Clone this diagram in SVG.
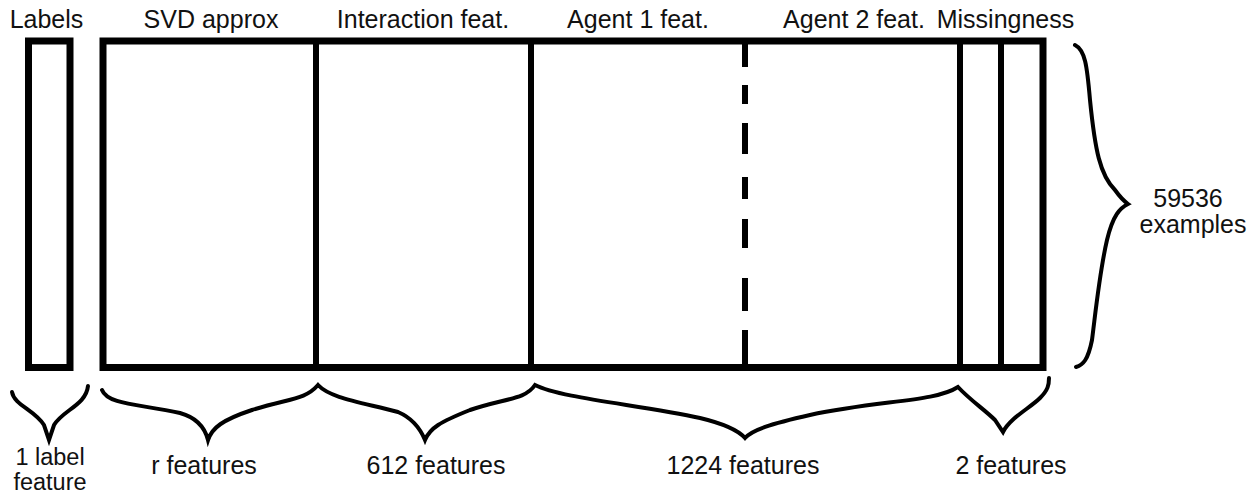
<svg xmlns="http://www.w3.org/2000/svg" width="1260" height="495" viewBox="0 0 1260 495">
<style>
.t{font-family:"Liberation Sans",Arial,sans-serif;font-size:25px;fill:#111;text-anchor:middle}
.s{font-size:23.5px}
.box{fill:none;stroke:#000;stroke-width:7}
.div{stroke:#000;stroke-width:6;fill:none}
.br{fill:none;stroke:#000;stroke-width:4;stroke-linejoin:miter;stroke-linecap:round}
</style>
<rect width="1260" height="495" fill="#fff"/>
<g id="labels-column">
<rect class="box" x="28.5" y="41" width="41.5" height="326.5"/>
<text class="t" x="46.5" y="28">Labels</text>
</g>
<g id="feature-matrix">
<rect class="box" x="103" y="41" width="940" height="326.5"/>
</g>
<g id="svd">
<text class="t" x="211" y="28">SVD approx</text>
</g>
<g id="interaction">
<line class="div" x1="316" y1="41" x2="316" y2="367"/>
<text class="t" x="423" y="28">Interaction feat.</text>
</g>
<g id="agent1">
<line class="div" x1="531" y1="41" x2="531" y2="367"/>
<text class="t" x="638" y="28">Agent 1 feat.</text>
</g>
<g id="agent2">
<path class="div" d="M745,41V67M745,85V104M745,123V154M745,177V199M745,219V248M745,278V311M745,330V367"/>
<text class="t" x="854" y="28">Agent 2 feat.</text>
</g>
<g id="missingness">
<line class="div" x1="960" y1="41" x2="960" y2="367"/>
<line class="div" x1="1001" y1="41" x2="1001" y2="367"/>
<text class="t" x="1005.5" y="28">Missingness</text>
</g>
<g id="connectors">
<path class="br" d="M12,392 C14,405 35,410 44,425 L49,440 L54,425 C63,410 86,405 88,386"/>
<path class="br" d="M102,390 C108,405 140,404 180,413 C198,418 205,428 208,440 C212,428 222,420 252,410 C290,398 305,400 318,385 C330,398 360,402 398,412 C412,418 420,428 425,440 C430,428 440,422 470,410 C505,398 525,400 535,385 C560,398 640,405 700,418 C725,424 738,430 745,438 C752,430 770,424 810,415 C880,400 935,402 958,387 C970,400 985,410 995,420 L1003,432 C1010,418 1030,408 1040,398 C1048,390 1049,385 1049,378"/>
<path class="br" d="M1075,45 C1085,50 1087,65 1090,100 C1095,150 1100,175 1115,190 C1120,197 1124,201 1128,204 C1120,208 1113,215 1107,240 C1100,270 1097,300 1092,340 C1088,360 1083,365 1076,367"/>
</g>
<g id="bottom-labels">
<text class="t s" x="50" y="465">1 label</text>
<text class="t s" x="50" y="489.5">feature</text>
<text class="t" x="204" y="474">r features</text>
<text class="t" x="436" y="474">612 features</text>
<text class="t" x="743" y="474">1224 features</text>
<text class="t" x="1011" y="474">2 features</text>
</g>
<g id="examples">
<text class="t" x="1188" y="207">59536</text>
<text class="t" x="1193" y="233">examples</text>
</g>
</svg>
